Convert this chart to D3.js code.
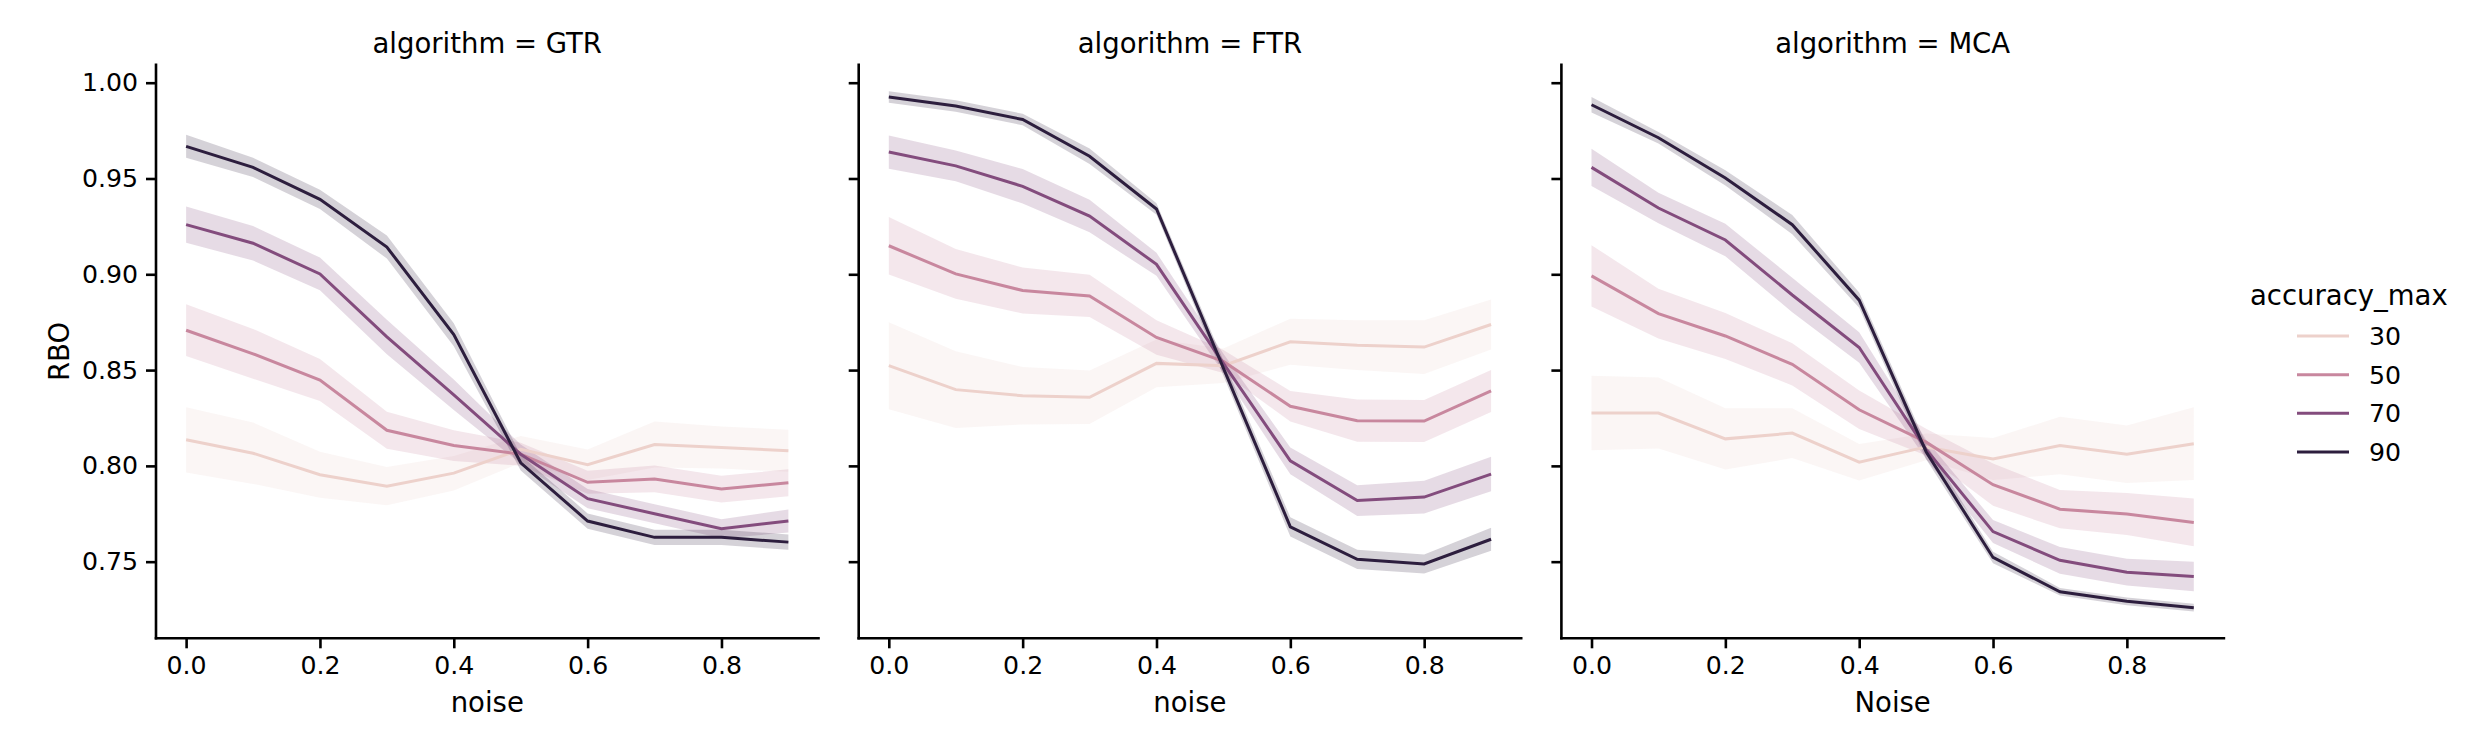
<!DOCTYPE html>
<html>
<head>
<meta charset="utf-8">
<script src="https://cdn.jsdelivr.net/npm/d3@7"></script>
<style>
  html, body { margin: 0; padding: 0; background: #fff; }
  svg text { font-family: "DejaVu Sans", sans-serif; fill: #000; }
</style>
</head>
<body>
<svg id="chart" width="2472" height="750"></svg>
<script>
// ---- data ----
const noise = [0.0, 0.1, 0.2, 0.3, 0.4, 0.5, 0.6, 0.7, 0.8, 0.9];
const accuracyLevels = [30, 50, 70, 90];
const algorithms = ["GTR", "FTR", "MCA"];
const xLabels = ["noise", "noise", "Noise"];
const xTicks = [0.0, 0.2, 0.4, 0.6, 0.8];
const yTicks = [0.75, 0.80, 0.85, 0.90, 0.95, 1.00];

// mean RBO, rows = accuracy_max 30, 50, 70, 90
const gtrMean = [
  [0.8136, 0.8066, 0.7954, 0.7894, 0.7962, 0.8086, 0.8006, 0.8111, 0.8096, 0.8079],
  [0.8708, 0.8585, 0.8448, 0.8186, 0.8106, 0.8061, 0.7914, 0.7932, 0.7879, 0.7912],
  [0.9259, 0.9162, 0.9002, 0.8673, 0.8371, 0.8061, 0.7829, 0.7750, 0.7672, 0.7712],
  [0.9668, 0.9558, 0.9391, 0.9142, 0.8685, 0.8016, 0.7712, 0.7627, 0.7627, 0.7602]
];
const ftrMean = [
  [0.8523, 0.8398, 0.8366, 0.8358, 0.8535, 0.8523, 0.8648, 0.8630, 0.8620, 0.8738],
  [0.9149, 0.9002, 0.8915, 0.8887, 0.8670, 0.8545, 0.8311, 0.8236, 0.8234, 0.8391],
  [0.9638, 0.9566, 0.9459, 0.9304, 0.9052, 0.8535, 0.8026, 0.7819, 0.7837, 0.7957],
  [0.9925, 0.9878, 0.9808, 0.9616, 0.9341, 0.8510, 0.7682, 0.7512, 0.7488, 0.7617]
];
const mcaMean = [
  [0.8276, 0.8276, 0.8141, 0.8171, 0.8019, 0.8099, 0.8036, 0.8106, 0.8061, 0.8116],
  [0.8992, 0.8795, 0.8678, 0.8530, 0.8293, 0.8124, 0.7902, 0.7774, 0.7749, 0.7705],
  [0.9558, 0.9346, 0.9179, 0.8892, 0.8618, 0.8086, 0.7657, 0.7507, 0.7445, 0.7423],
  [0.9885, 0.9713, 0.9503, 0.9259, 0.8865, 0.8074, 0.7522, 0.7343, 0.7293, 0.7260]
];

// 95% CI half width, same layout
const gtrCi = [
  [0.017, 0.016, 0.012, 0.010, 0.009, 0.007, 0.008, 0.012, 0.011, 0.011],
  [0.0135, 0.013, 0.011, 0.0097, 0.008, 0.006, 0.006, 0.007, 0.007, 0.007],
  [0.0095, 0.009, 0.0085, 0.009, 0.008, 0.005, 0.005, 0.005, 0.005, 0.006],
  [0.006, 0.005, 0.005, 0.006, 0.006, 0.004, 0.004, 0.004, 0.004, 0.004]
];
const ftrCi = [
  [0.0227, 0.020, 0.015, 0.014, 0.0125, 0.009, 0.012, 0.013, 0.014, 0.013],
  [0.015, 0.013, 0.012, 0.011, 0.009, 0.006, 0.008, 0.011, 0.011, 0.011],
  [0.0087, 0.008, 0.009, 0.0085, 0.006, 0.005, 0.007, 0.008, 0.0085, 0.009],
  [0.003, 0.003, 0.003, 0.004, 0.003, 0.004, 0.005, 0.005, 0.005, 0.006]
];
const mcaCi = [
  [0.0195, 0.0185, 0.016, 0.013, 0.0095, 0.007, 0.011, 0.015, 0.015, 0.019],
  [0.016, 0.013, 0.012, 0.011, 0.010, 0.007, 0.011, 0.010, 0.011, 0.0125],
  [0.0097, 0.008, 0.0085, 0.009, 0.008, 0.005, 0.006, 0.007, 0.007, 0.0077],
  [0.004, 0.003, 0.004, 0.005, 0.004, 0.004, 0.003, 0.002, 0.002, 0.002]
];

const means = [gtrMean, ftrMean, mcaMean];
const cis = [gtrCi, ftrCi, mcaCi];

// seaborn default cubehelix palette (start=0, rot=.4, hue=.8, light=.85, dark=.15)
function cubehelix(t) {
  const x = 0.85 - 0.7 * t;
  const a = 0.8 * x * (1 - x) / 2;
  const phi = 2 * Math.PI * (0.4 * x);
  const c = Math.cos(phi), s = Math.sin(phi);
  const clamp = v => Math.max(0, Math.min(1, v));
  const r = clamp(x + a * (-0.14861 * c + 1.78277 * s));
  const g = clamp(x + a * (-0.29227 * c - 0.90649 * s));
  const b = clamp(x + a * (1.97294 * c));
  return d3.rgb(r * 255, g * 255, b * 255).formatHex();
}
const hueNorm = d3.scaleLinear().domain([30, 90]).range([0, 1]);
const hueColor = v => cubehelix(hueNorm(v));

// ---- layout ----
const svg = d3.select("#chart");
svg.append("rect").attr("width", 2472).attr("height", 750).attr("fill", "#fff");

const panelLefts = [156, 858.7, 1561.4];
const panelW = 662.5;
const plotTop = 64.7, plotBottom = 638.3;

const y = d3.scaleLinear().domain([0.710, 1.0094]).range([plotBottom, plotTop]);

algorithms.forEach((alg, i) => {
  const x = d3.scaleLinear().domain([-0.045, 0.945]).range([panelLefts[i], panelLefts[i] + panelW]);
  const g = svg.append("g");

  // bands first (they sit under the lines, like matplotlib's zorder)
  accuracyLevels.forEach((lvl, k) => {
    const pts = noise.map((n, j) => ({ n, m: means[i][k][j], c: cis[i][k][j] }));
    g.append("path")
      .datum(pts)
      .attr("d", d3.area().x(d => x(d.n)).y0(d => y(d.m - d.c)).y1(d => y(d.m + d.c)))
      .attr("fill", hueColor(lvl))
      .attr("fill-opacity", 0.2)
      .attr("stroke", "none");
  });

  accuracyLevels.forEach((lvl, k) => {
    g.append("path")
      .datum(noise.map((n, j) => [n, means[i][k][j]]))
      .attr("d", d3.line().x(d => x(d[0])).y(d => y(d[1])))
      .attr("fill", "none")
      .attr("stroke", hueColor(lvl))
      .attr("stroke-width", 3);
  });

  // axes
  const xAxis = g.append("g")
    .attr("transform", `translate(0,${plotBottom})`)
    .call(d3.axisBottom(x).tickValues(xTicks).tickFormat(d3.format(".1f")).tickSize(10).tickPadding(8));
  const yAxis = g.append("g")
    .attr("transform", `translate(${panelLefts[i]},0)`)
    .call(d3.axisLeft(y).tickValues(yTicks).tickFormat(i === 0 ? d3.format(".2f") : () => "").tickSize(10).tickPadding(8));

  [xAxis, yAxis].forEach(ax => {
    ax.select(".domain").remove();
    ax.selectAll(".tick line").attr("stroke", "#000").attr("stroke-width", 2.6);
    ax.selectAll(".tick text").attr("font-size", "25.2px").attr("font-family", "DejaVu Sans").attr("fill", "#000");
  });
  // spines (left + bottom only)
  g.append("line").attr("x1", panelLefts[i]).attr("x2", panelLefts[i] + panelW)
    .attr("y1", plotBottom).attr("y2", plotBottom).attr("stroke", "#000").attr("stroke-width", 2.6)
    .attr("stroke-linecap", "square");
  g.append("line").attr("x1", panelLefts[i]).attr("x2", panelLefts[i])
    .attr("y1", plotTop).attr("y2", plotBottom).attr("stroke", "#000").attr("stroke-width", 2.6)
    .attr("stroke-linecap", "square");

  // title and x label
  g.append("text")
    .attr("x", panelLefts[i] + panelW / 2).attr("y", 53.3)
    .attr("text-anchor", "middle").attr("font-size", "27.5px")
    .text(`algorithm = ${alg}`);
  g.append("text")
    .attr("x", panelLefts[i] + panelW / 2).attr("y", 711.7)
    .attr("text-anchor", "middle").attr("font-size", "27.5px")
    .text(xLabels[i]);
});

// y label
svg.append("text")
  .attr("transform", `translate(69,${(plotTop + plotBottom) / 2}) rotate(-90)`)
  .attr("text-anchor", "middle").attr("font-size", "27.5px")
  .text("RBO");

// legend
const legend = svg.append("g");
legend.append("text").attr("x", 2250).attr("y", 305).attr("font-size", "27.5px").text("accuracy_max");
const legendY = d3.scalePoint().domain(accuracyLevels).range([336, 452]);
accuracyLevels.forEach(lvl => {
  legend.append("line")
    .attr("x1", 2297).attr("x2", 2349)
    .attr("y1", legendY(lvl)).attr("y2", legendY(lvl))
    .attr("stroke", hueColor(lvl)).attr("stroke-width", 3);
  legend.append("text")
    .attr("x", 2369).attr("y", legendY(lvl) + 9)
    .attr("font-size", "25.2px").text(lvl);
});
</script>
</body>
</html>
